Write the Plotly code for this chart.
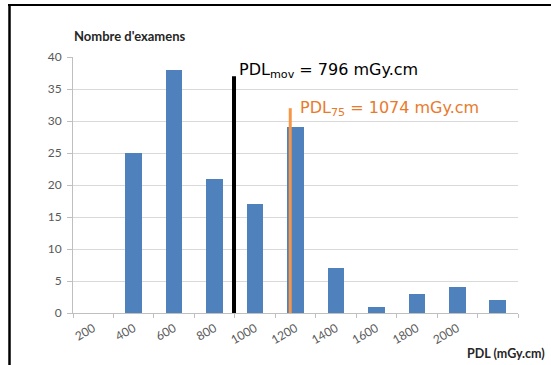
import plotly.graph_objects as go

# Histogram of exam dose-length products (bins labelled by upper bound, mGy.cm)
bin_labels = ["200", "400", "600", "800", "1000", "1200", "1400", "1600", "1800", "2000", ""]
exam_counts = [0, 25, 38, 21, 17, 29, 7, 1, 3, 4, 2]
y_ticks = [0, 5, 10, 15, 20, 25, 30, 35, 40]

pdl_mov = 796    # mean PDL
pdl_75 = 1074    # 75th percentile PDL
bin_step = 200

W, H = 551, 365
L, R, T, B = 73, 33, 57, 52

positions = list(range(len(bin_labels)))


def pdl_to_x(v):
    # bin i spans (i*step, (i+1)*step], centred on index i
    return v / bin_step - 0.5


def px_to_paper_x(px):
    return (px - L) / (W - L - R)


def py_to_paper_y(py):
    return (H - B - py) / (H - T - B)


fig = go.Figure()
fig.add_trace(go.Bar(
    x=positions,
    y=exam_counts,
    width=0.41,
    marker=dict(color="#4F81BD", line=dict(width=0)),
    hoverinfo="skip",
))

tick_font = dict(family="Lato, Carlito, sans-serif", size=12, color="#595959")
axis_grey = "#BFBFBF"

fig.update_xaxes(
    range=[-0.5, len(bin_labels) - 0.5],
    tickmode="array",
    tickvals=positions[:-1],
    ticktext=bin_labels[:-1],
    tickangle=-30,
    ticks="",
    ticklabelstandoff=3,
    tickfont=tick_font,
    showgrid=False,
    zeroline=False,
    showline=True,
    linecolor=axis_grey,
    linewidth=1,
    minor=dict(
        tickmode="array",
        tickvals=[p - 0.5 for p in positions] + [positions[-1] + 0.5],
        ticks="outside",
        ticklen=4,
        tickcolor=axis_grey,
        showgrid=False,
    ),
)
fig.update_yaxes(
    range=[0, 40],
    tickmode="array",
    tickvals=y_ticks,
    ticks="outside",
    ticklen=5,
    tickcolor=axis_grey,
    ticklabelstandoff=3,
    tickfont=tick_font,
    showgrid=True,
    gridcolor="#D9D9D9",
    gridwidth=1,
    zeroline=False,
    showline=True,
    linecolor=axis_grey,
    linewidth=1,
)

# Reference levels
fig.add_shape(type="line", xref="x", yref="y",
              x0=pdl_to_x(pdl_mov), x1=pdl_to_x(pdl_mov), y0=-0.3, y1=37,
              line=dict(color="black", width=4))
fig.add_shape(type="line", xref="x", yref="y",
              x0=pdl_to_x(pdl_75), x1=pdl_to_x(pdl_75), y0=-0.3, y1=32,
              line=dict(color="#F79646", width=3))

label_font = "DejaVu Sans, Verdana, sans-serif"
fig.add_annotation(
    x=pdl_to_x(pdl_mov), y=37, xref="x", yref="y",
    xanchor="left", yanchor="middle", xshift=3, yshift=6,
    text=f"PDL<sub>mov</sub> = {pdl_mov} mGy.cm",
    showarrow=False, font=dict(family=label_font, size=16, color="black"),
)
fig.add_annotation(
    x=pdl_to_x(pdl_75), y=32, xref="x", yref="y",
    xanchor="left", yanchor="middle", xshift=8,
    text=f"PDL<sub>75</sub> = {pdl_75} mGy.cm",
    showarrow=False, font=dict(family=label_font, size=16, color="#E97A2C"),
)

title_font = dict(family="Lato, Carlito, sans-serif", size=13, color="#262626")
fig.add_annotation(
    x=px_to_paper_x(72), y=py_to_paper_y(36), xref="paper", yref="paper",
    xanchor="left", yanchor="middle",
    text="<b>Nombre d'examens</b>", showarrow=False, font=title_font,
)
fig.add_annotation(
    x=px_to_paper_x(547), y=py_to_paper_y(353), xref="paper", yref="paper",
    xanchor="right", yanchor="middle",
    text="<b>PDL (mGy.cm)</b>", showarrow=False, font=dict(title_font, size=12.5),
)

# Outer frame strokes
fig.add_shape(type="line", xref="paper", yref="paper",
              x0=px_to_paper_x(8), x1=px_to_paper_x(551),
              y0=py_to_paper_y(5), y1=py_to_paper_y(5),
              line=dict(color="black", width=2))
fig.add_shape(type="line", xref="paper", yref="paper",
              x0=px_to_paper_x(9.5), x1=px_to_paper_x(9.5),
              y0=py_to_paper_y(4), y1=py_to_paper_y(366),
              line=dict(color="black", width=2.5))

fig.update_layout(
    width=W, height=H,
    margin=dict(l=L, r=R, t=T, b=B, pad=0),
    plot_bgcolor="white",
    paper_bgcolor="white",
    showlegend=False,
    bargap=0,
)

fig.write_html("out.html")
